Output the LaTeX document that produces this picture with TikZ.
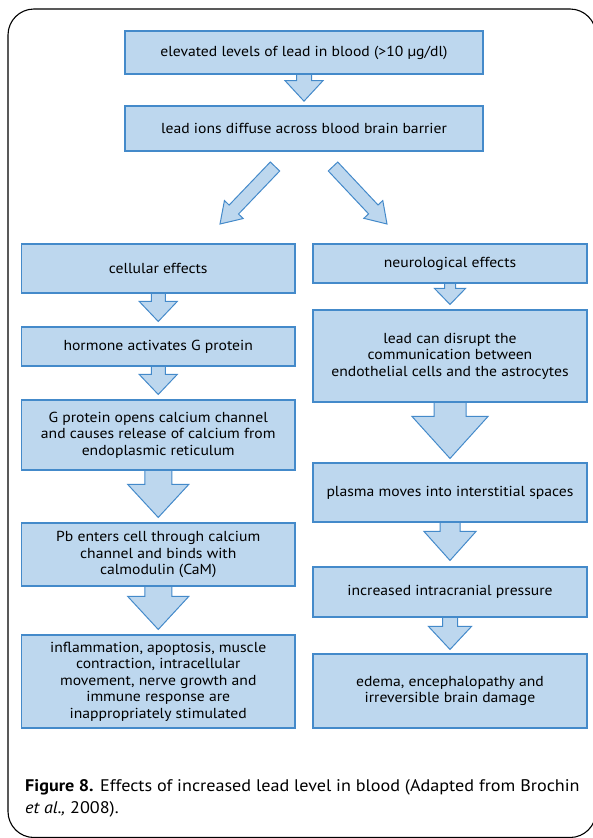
\documentclass[tikz,border=0pt]{standalone}
\usepackage{fontspec}
\setmainfont{PT Sans}[FakeStretch=1.08]
\usetikzlibrary{calc,backgrounds}
\definecolor{boxfill}{RGB}{189,215,238}
\definecolor{boxedge}{RGB}{68,138,202}
\tikzset{
  flowbox/.style={draw=boxedge, fill=boxfill, line width=1.1pt, align=center,
    inner sep=0pt, font=\fontsize{14.5}{16.5}\selectfont},
  arrowshape/.style={draw=boxedge, fill=boxfill, line width=1pt, line join=miter},
  captext/.style={anchor=base west, inner sep=0pt, font=\fontsize{16.8}{22}\selectfont}
}
% tail, tip, half shaft, half head, head length, closing
\newcommand\blockarrow[6]{%
  \filldraw[arrowshape]
    ($(#1)!#3!90:(#2)$)
    -- ($(#2)!#5!(#1)!#3!-90:(#1)$)
    -- ($(#2)!#5!(#1)!#4!-90:(#1)$)
    -- (#2)
    -- ($(#2)!#5!(#1)!#4!90:(#1)$)
    -- ($(#2)!#5!(#1)!#3!90:(#1)$)
    -- ($(#1)!#3!-90:(#2)$) #6;
}
\begin{document}
\begin{tikzpicture}[x=1pt,y=-1pt]
\useasboundingbox (0,0) rectangle (592,838);
\draw[line width=1.1pt, rounded corners=26pt] (8,9) rectangle (596,837.5);

% top boxes
\node[flowbox, minimum width=358pt, minimum height=43pt] (b1) at (304,52.5) {elevated levels of lead in blood (>10 µg/dl)};
\node[flowbox, minimum width=358pt, minimum height=45pt] (b2) at (304,128.5) {lead ions diffuse across blood brain barrier};

% left column
\node[flowbox, minimum width=273.5pt, minimum height=49pt] (c1) at (158.25,268.5) {cellular effects};
\node[flowbox, minimum width=273.5pt, minimum height=39pt] (c2) at (158.25,346.5) {hormone activates G protein};
\node[flowbox, minimum width=273.5pt, minimum height=70pt] (c3) at (158.25,435) {G protein opens calcium channel\\and causes release of calcium from\\endoplasmic reticulum};
\node[flowbox, minimum width=273.5pt, minimum height=63pt] (c4) at (158.25,554.5) {Pb enters cell through calcium\\channel and binds with\\calmodulin (CaM)};
\node[flowbox, minimum width=273.5pt, minimum height=93pt] (c5) at (158.25,681.5) {inflammation, apoptosis, muscle\\contraction, intracellular\\movement, nerve growth and\\immune response are\\inappropriately stimulated};

% right column
\node[flowbox, minimum width=274pt, minimum height=39pt] (r1) at (450,263.5) {neurological effects};
\node[flowbox, minimum width=274pt, minimum height=92pt] (r2) at (450,356) {lead can disrupt the\\communication between\\endothelial cells and the astrocytes};
\node[flowbox, minimum width=274pt, minimum height=59pt] (r3) at (450,492.5) {plasma moves into interstitial spaces};
\node[flowbox, minimum width=274pt, minimum height=50pt] (r4) at (450,592) {increased intracranial pressure};
\node[flowbox, minimum width=274pt, minimum height=74pt] (r5) at (450,691) {edema, encephalopathy and\\irreversible brain damage};

% arrow end points
\coordinate (t0) at ($(b2.north)+(0,-4.3)$);
\coordinate (dlT) at (275,166.5);
\coordinate (dlH) at (220,224);
\coordinate (drT) at (333,166.5);
\coordinate (drH) at (387,224);
\coordinate (tc2) at ($(c2.north)+(0,-5)$);
\coordinate (tc3) at ($(c3.north)+(0,-5)$);
\coordinate (tc4) at ($(c4.north)+(0,-5)$);
\coordinate (tc5) at ($(c5.north)+(0,-5)$);
\coordinate (tr2) at ($(r2.north)+(0,-5)$);
\coordinate (tr3) at ($(r3.north)+(0,-4)$);
\coordinate (tr4) at ($(r4.north)+(0,-6)$);
\coordinate (tr5) at ($(r5.north)+(0,-4)$);

\begin{scope}[on background layer]
\blockarrow{b1.south}{t0}{7.5pt}{19pt}{20.5pt}{}
\blockarrow{dlT}{dlH}{6.5pt}{13pt}{20pt}{-- cycle}
\blockarrow{drT}{drH}{6.5pt}{13pt}{20pt}{-- cycle}
\blockarrow{c1.south}{tc2}{7pt}{19pt}{20pt}{}
\blockarrow{c2.south}{tc3}{7pt}{19pt}{20pt}{}
\blockarrow{c3.south}{tc4}{13.5pt}{30.5pt}{33pt}{}
\blockarrow{c4.south}{tc5}{13.5pt}{30.5pt}{33pt}{}
\blockarrow{r1.south}{tr2}{5.5pt}{15.5pt}{16pt}{}
\blockarrow{r2.south}{tr3}{16pt}{38pt}{42pt}{}
\blockarrow{r3.south}{tr4}{10pt}{26pt}{29pt}{}
\blockarrow{r4.south}{tr5}{7.5pt}{21.5pt}{23pt}{}
\end{scope}

% caption
\node[captext] (cap1) at (25,791) {\textbf{Figure 8.} Effects of increased lead level in blood (Adapted from Brochin};
\node[captext] (cap2) at (25,813) {\textit{et al.,} 2008).};
\end{tikzpicture}
\end{document}
